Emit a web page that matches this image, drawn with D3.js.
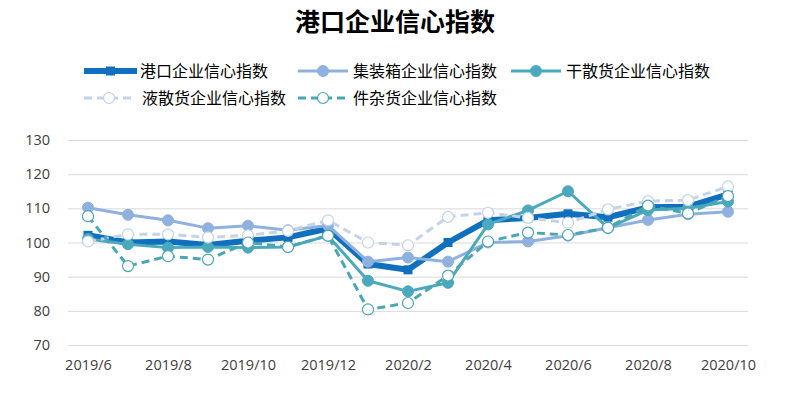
<!DOCTYPE html>
<html><head><meta charset="utf-8">
<script src="https://cdn.jsdelivr.net/npm/d3@7/dist/d3.min.js"></script>
<style>body{margin:0;background:#fff;}svg{display:block;}</style>
</head><body><svg id="c" width="790" height="410"></svg>
<script>
const months = ["2019/6","2019/7","2019/8","2019/9","2019/10","2019/11","2019/12","2020/1","2020/2","2020/3","2020/4","2020/5","2020/6","2020/7","2020/8","2020/9","2020/10"];
const tickLabels = ["2019/6","2019/8","2019/10","2019/12","2020/2","2020/4","2020/6","2020/8","2020/10"];
const yTicks = [70,80,90,100,110,120,130];
const portIdx      = [102.1,100.0,100.3,99.3,100.5,101.5,104.1,93.7,92.0,100.0,106.5,107.2,108.4,107.4,110.3,110.5,114.1];
const containerIdx = [110.2,108.1,106.5,104.2,104.9,103.6,105.0,94.4,95.6,94.4,100.0,100.3,102.0,104.3,106.6,108.3,109.0];
const dryIdx       = [101.0,99.5,98.5,98.7,98.5,98.7,102.0,88.8,85.7,88.2,105.3,109.4,115.0,104.3,109.5,110.0,112.0];
const liquidIdx    = [100.3,102.4,102.4,101.5,102.1,103.4,106.5,100.0,99.2,107.5,108.7,107.2,105.8,109.7,112.1,112.4,116.4];
const miscIdx      = [107.7,93.1,96.0,95.0,100.0,98.7,102.0,80.4,82.3,90.3,100.3,102.9,102.2,104.3,110.8,108.5,113.6];
const names = ["港口企业信心指数","集装箱企业信心指数","干散货企业信心指数","液散货企业信心指数","件杂货企业信心指数"];

const series = [
  {name:names[0], values:portIdx, color:"#1170BE", width:6, dash:null, marker:"square", fill:"#1170BE"},
  {name:names[1], values:containerIdx, color:"#8FB1DF", width:3, dash:null, marker:"circle", fill:"#8FB1DF"},
  {name:names[2], values:dryIdx, color:"#4AA9BC", width:3, dash:null, marker:"circle", fill:"#4AA9BC"},
  {name:names[3], values:liquidIdx, color:"#C3D3EA", width:3, dash:"8,5", marker:"circle", fill:"#fff"},
  {name:names[4], values:miscIdx, color:"#4AA6B2", width:3, dash:"8,5", marker:"circle", fill:"#fff"}
];

const svg = d3.select("#c");
const font = "'Noto Sans CJK SC','Microsoft YaHei',sans-serif";
const numFont = "'Open Sans','Liberation Sans',sans-serif";
const pLeft = 68, pRight = 748, pTop = 140, pBottom = 345;

const x = d3.scalePoint().domain(months).range([pLeft+20, pRight-20]);
const y = d3.scaleLinear().domain([70,130]).range([pBottom, pTop]);

svg.append("text").attr("x",395).attr("y",31).attr("text-anchor","middle")
  .attr("font-family",font).attr("font-weight","bold").attr("font-size",25).attr("fill","#000")
  .text("港口企业信心指数");

const yAxis = d3.axisLeft(y).tickValues(yTicks).tickSize(-(pRight-pLeft)).tickPadding(18);
const gy = svg.append("g").attr("transform",`translate(${pLeft},0)`).call(yAxis);
gy.select(".domain").remove();
gy.selectAll(".tick line").attr("stroke","#D9D9D9").attr("stroke-width",1);
gy.selectAll(".tick text").attr("font-family",numFont).attr("font-size",14.5).attr("fill","#404040");

const xAxis = d3.axisBottom(x).tickValues(tickLabels).tickSize(0).tickPadding(15);
const gx = svg.append("g").attr("transform",`translate(0,${pBottom})`).call(xAxis);
gx.select(".domain").remove();
gx.selectAll(".tick text").attr("font-family",numFont).attr("font-size",14.5).attr("fill","#404040");

const line = d3.line().x((d,i)=>x(months[i])).y(d=>y(d));

function drawMarker(g, s, cx, cy){
  if(s.marker==="square"){
    g.append("rect").attr("x",cx-4.5).attr("y",cy-4.5).attr("width",9).attr("height",9).attr("fill",s.fill);
  } else {
    g.append("circle").attr("cx",cx).attr("cy",cy).attr("r",5.5)
      .attr("fill",s.fill).attr("stroke",s.color).attr("stroke-width",s.fill==="#fff"?1.2:1);
  }
}

series.forEach(s=>{
  const g = svg.append("g");
  g.append("path").datum(s.values).attr("d",line).attr("fill","none")
    .attr("stroke",s.color).attr("stroke-width",s.width).attr("stroke-linejoin","round")
    .attr("stroke-dasharray",s.dash);
  s.values.forEach((v,i)=>drawMarker(g,s,x(months[i]),y(v)));
});

const legendPos = [
  {lx:84, ly:71, tx:140},
  {lx:298, ly:71, tx:353},
  {lx:511, ly:71, tx:566},
  {lx:84, ly:98, tx:142},
  {lx:298, ly:98, tx:353}
];
series.forEach((s,i)=>{
  const p = legendPos[i];
  const g = svg.append("g");
  const w = i===0 ? 53 : 50;
  g.append("line").attr("x1",p.lx).attr("x2",p.lx+w).attr("y1",p.ly).attr("y2",p.ly)
    .attr("stroke",s.color).attr("stroke-width",s.width).attr("stroke-dasharray",s.dash);
  drawMarker(g,s,p.lx+w/2,p.ly);
  g.append("text").attr("x",p.tx).attr("y",p.ly).attr("dy","0.36em")
    .attr("font-family",font).attr("font-size",16).attr("fill","#000").text(s.name);
});
</script></body></html>
